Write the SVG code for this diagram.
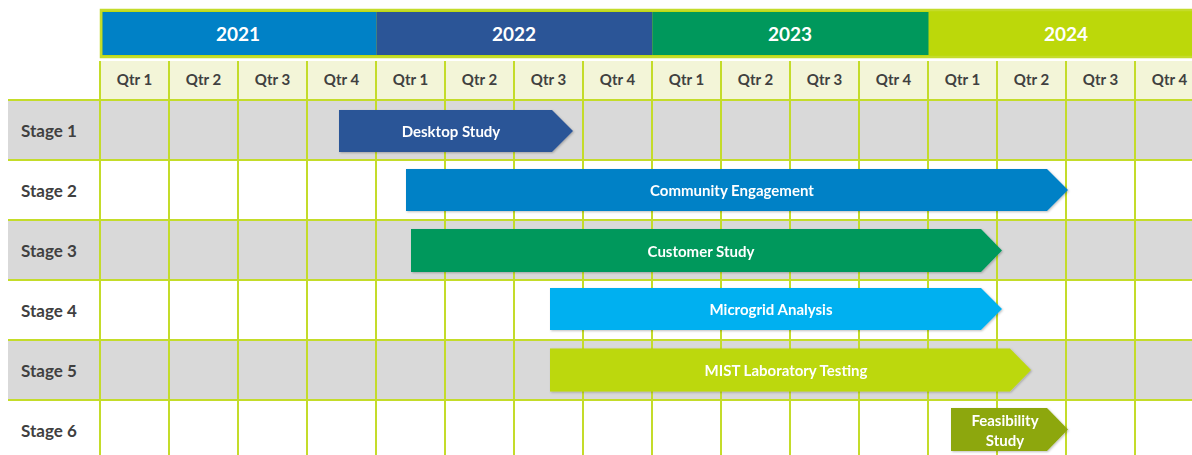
<svg xmlns="http://www.w3.org/2000/svg" width="1192" height="455" viewBox="0 0 1192 455">
<defs>
<style>
.yr{font-family:Lato,"Open Sans","Liberation Sans",sans-serif;font-weight:bold;font-size:19px;fill:#fff;text-anchor:middle;dominant-baseline:central}
.q{font-family:Lato,"Open Sans","Liberation Sans",sans-serif;font-weight:bold;font-size:15px;fill:#404040;text-anchor:middle;dominant-baseline:central}
.st{font-family:Lato,"Open Sans","Liberation Sans",sans-serif;font-weight:bold;font-size:17px;fill:#404040;dominant-baseline:central}
.bt{font-family:Lato,"Open Sans","Liberation Sans",sans-serif;font-weight:bold;font-size:15px;fill:#fff;text-anchor:middle;dominant-baseline:central}
.grid{stroke:#C4DC2A;stroke-width:2;fill:none}
.gray{fill:#D9D9D9}
</style>
<filter id="sh" x="-5%" y="-20%" width="110%" height="140%">
<feDropShadow dx="1" dy="1" stdDeviation="1" flood-color="#000" flood-opacity="0.25"/>
</filter>
</defs>
<rect width="1192" height="455" fill="#fff"/>
<g id="years">
<rect x="101" y="10" width="1093" height="47" fill="#BCD80A" stroke="#C4DC2A" stroke-width="2.5"/>
<rect x="102.5" y="12" width="274" height="43" fill="#0081C6"/>
<rect x="376.5" y="12" width="276" height="43" fill="#2B5597"/>
<rect x="652.5" y="12" width="276" height="43" fill="#00985C"/>
<text class="yr" x="238" y="33.5">2021</text>
<text class="yr" x="514" y="33.5">2022</text>
<text class="yr" x="790" y="33.5">2023</text>
<text class="yr" x="1066" y="33.5">2024</text>
</g>
<g id="quarters">
<rect x="100" y="61" width="1092" height="39" fill="#F3F5D8"/>
<text class="q" x="134.5" y="78.5">Qtr 1</text>
<text class="q" x="203.5" y="78.5">Qtr 2</text>
<text class="q" x="272.5" y="78.5">Qtr 3</text>
<text class="q" x="341.5" y="78.5">Qtr 4</text>
<text class="q" x="410.5" y="78.5">Qtr 1</text>
<text class="q" x="479.5" y="78.5">Qtr 2</text>
<text class="q" x="548.5" y="78.5">Qtr 3</text>
<text class="q" x="617.5" y="78.5">Qtr 4</text>
<text class="q" x="686.5" y="78.5">Qtr 1</text>
<text class="q" x="755.5" y="78.5">Qtr 2</text>
<text class="q" x="824.5" y="78.5">Qtr 3</text>
<text class="q" x="893.5" y="78.5">Qtr 4</text>
<text class="q" x="962.5" y="78.5">Qtr 1</text>
<text class="q" x="1031.5" y="78.5">Qtr 2</text>
<text class="q" x="1100.5" y="78.5">Qtr 3</text>
<text class="q" x="1169.5" y="78.5">Qtr 4</text>
</g>
<g id="rows">
<rect class="gray" x="8" y="100" width="1184" height="60"/>
<rect class="gray" x="8" y="220" width="1184" height="60"/>
<rect class="gray" x="8" y="340" width="1184" height="60"/>
<text class="st" x="21" y="130.5">Stage 1</text>
<text class="st" x="21" y="190.5">Stage 2</text>
<text class="st" x="21" y="250.5">Stage 3</text>
<text class="st" x="21" y="310.5">Stage 4</text>
<text class="st" x="21" y="370.5">Stage 5</text>
<text class="st" x="21" y="430.5">Stage 6</text>
</g>
<g id="grid" class="grid">
<path d="M8 100H1192M8 160H1192M8 220H1192M8 280H1192M8 340H1192M8 400H1192"/>
<path d="M100 61V455M169 61V455M238 61V455M307 61V455M376 61V455M445 61V455M514 61V455M583 61V455M652 61V455M721 61V455M790 61V455M859 61V455M928 61V455M997 61V455M1066 61V455M1135 61V455"/>
</g>
<g id="bar1" filter="url(#sh)">
<polygon points="339,110 552,110 573,131 552,152 339,152" fill="#2B5597"/>
<text class="bt" x="451" y="130.5">Desktop Study</text>
</g>
<g id="bar2" filter="url(#sh)">
<polygon points="406,169 1047,169 1068,190 1047,211 406,211" fill="#0081C6"/>
<text class="bt" x="732" y="189.5">Community Engagement</text>
</g>
<g id="bar3" filter="url(#sh)">
<polygon points="411,229 981,229 1002,250.5 981,272 411,272" fill="#00985C"/>
<text class="bt" x="701" y="250.5">Customer Study</text>
</g>
<g id="bar4" filter="url(#sh)">
<polygon points="550,288 981,288 1002,309 981,330 550,330" fill="#00B0F0"/>
<text class="bt" x="771" y="309">Microgrid Analysis</text>
</g>
<g id="bar5" filter="url(#sh)">
<polygon points="550,348.5 1010,348.5 1031,370 1010,391.5 550,391.5" fill="#BCD80A"/>
<text class="bt" x="786" y="369.5">MIST Laboratory Testing</text>
</g>
<g id="bar6" filter="url(#sh)">
<polygon points="951,408 1047,408 1068,429.5 1047,451 951,451" fill="#8DA70E"/>
<text class="bt" x="1005" y="420">Feasibility</text>
<text class="bt" x="1005" y="440">Study</text>
</g>
</svg>
